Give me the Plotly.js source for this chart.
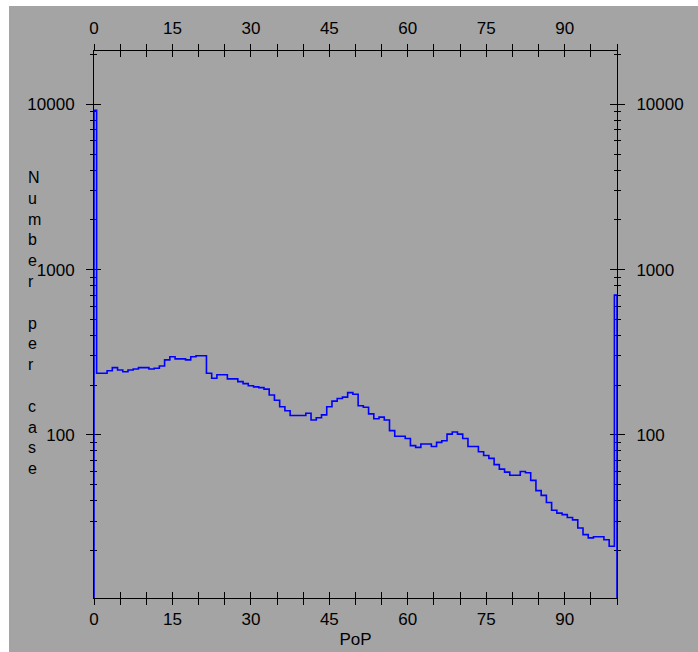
<!DOCTYPE html>
<html><head><meta charset="utf-8">
<script src="https://cdn.plot.ly/plotly-3.0.1.min.js"></script>
<style>
html,body{margin:0;padding:0;background:#ffffff;width:698px;height:652px;overflow:hidden}
#chart{position:absolute;left:9px;top:6px;width:689px;height:646px}
</style>
</head><body><div id="chart"></div><script>
// PoP value (bin centre) and number of cases in each bin
const pop = [0,1,2,3,4,5,6,7,8,9,10,11,12,13,14,15,16,17,18,19,20,21,22,23,24,25,26,27,28,29,30,31,32,33,34,35,36,37,38,39,40,41,42,43,44,45,46,47,48,49,50,51,52,53,54,55,56,57,58,59,60,61,62,63,64,65,66,67,68,69,70,71,72,73,74,75,76,77,78,79,80,81,82,83,84,85,86,87,88,89,90,91,92,93,94,95,96,97,98,99,100];
const counts = [9200,236,236,244,255,247,241,247,250,255,255,250,253,261,284,297,288,288,284,297,301,301,236,220,231,231,218,218,210,204,198,195,193,189,174,162,148,140,131,131,131,135,123,127,132,148,160,166,169,180,176,150,147,134,125,128,123,106,98,98,95,86,84,88,88,85,90,92,101,104,101,95,85,85,79,75,72,66,62,59.5,57,57,60,59,53,46,43,39,35,33.6,32.9,31.6,30.6,27.3,24.9,23.8,24.2,24.2,23.2,21.2,701];
const baselineCount = 1; // histogram outline drops to the baseline at both ends

const xTickVals = [0,5,10,15,20,25,30,35,40,45,50,55,60,65,70,75,80,85,90,95,100];
const xTickText = ['0','','','15','','','30','','','45','','','60','','','75','','','90','',''];
const yTickVals = [100,1000,10000];
const yTickText = ['100','1000','10000'];
const yMinorVals = [20,30,40,50,60,70,80,90,200,300,400,500,600,700,800,900,2000,3000,4000,5000,6000,7000,8000,9000,20000];
const xTitle = 'PoP';
const yTitle = 'Number per case';

const lineX = [pop[0]].concat(pop, [pop[pop.length-1]]);
const lineY = [baselineCount].concat(counts, [baselineCount]);

const GRAY = '#a4a4a4';
const tickFont = {family:'Liberation Sans, Arial, sans-serif', size:17, color:'#000'};
const xRange = [0,100];
const yRange = [Math.log10(10.3), Math.log10(21000)];

const baseX = {range:xRange, showgrid:false, zeroline:false, fixedrange:true, layer:'below traces',
  tickmode:'array', tickvals:xTickVals, ticktext:xTickText, tickcolor:'#000', tickwidth:1, ticklen:6,
  showline:true, linecolor:'#000', linewidth:1, tickfont:tickFont};
const baseY = {type:'log', range:yRange, showgrid:false, zeroline:false, fixedrange:true, layer:'below traces',
  tickmode:'array', tickvals:yTickVals, ticktext:yTickText, tickcolor:'#000', tickwidth:1, ticklen:7,
  showline:true, linecolor:'#000', linewidth:1, tickfont:tickFont};

const traces = [
  {x:lineX, y:lineY, type:'scatter', mode:'lines', line:{color:'#0000ff', width:1.6, shape:'hvh'},
   xaxis:'x', yaxis:'y', showlegend:false, hoverinfo:'skip'},
  {x:[null], y:[null], type:'scatter', mode:'lines', xaxis:'x2', yaxis:'y2', showlegend:false, hoverinfo:'skip'},
  {x:[null], y:[null], type:'scatter', mode:'lines', xaxis:'x3', yaxis:'y3', showlegend:false, hoverinfo:'skip'}
];

const layout = {
  width:689, height:646,
  margin:{l:85.3, r:81.3, t:45, b:53.7, pad:0},
  paper_bgcolor:GRAY, plot_bgcolor:GRAY,
  showlegend:false,
  xaxis:Object.assign({}, baseX, {side:'bottom', anchor:'y', ticks:'outside',
    title:{text:xTitle, font:tickFont, standoff:4}}),
  xaxis2:Object.assign({}, baseX, {side:'top', anchor:'y', overlaying:'x', ticks:'outside', ticklabelstandoff:3}),
  xaxis3:Object.assign({}, baseX, {anchor:'y', overlaying:'x', ticks:'inside', mirror:'allticks', showticklabels:false}),
  yaxis:Object.assign({}, baseY, {side:'left', anchor:'x', ticks:'outside', ticklabelstandoff:8,
    minor:{tickvals:yMinorVals, ticks:'outside', ticklen:3, tickcolor:'#000', tickwidth:1, showgrid:false}}),
  yaxis2:Object.assign({}, baseY, {side:'right', anchor:'x', overlaying:'y', ticks:'outside', ticklabelstandoff:8,
    minor:{tickvals:yMinorVals, ticks:'outside', ticklen:3, tickcolor:'#000', tickwidth:1, showgrid:false}}),
  yaxis3:Object.assign({}, baseY, {anchor:'x', overlaying:'y', ticks:'inside', mirror:'allticks', showticklabels:false,
    minor:{tickvals:yMinorVals, ticks:'inside', ticklen:3, tickcolor:'#000', tickwidth:1, showgrid:false}}),
  annotations:[{
    text: yTitle.split('').map(c => c === ' ' ? '\u00a0' : c).join('<br>'),
    xref:'paper', yref:'paper', x:-0.1305, y:0.503, xanchor:'left', yanchor:'middle', align:'left',
    showarrow:false, font:{family:'Liberation Sans, Arial, sans-serif', size:16, color:'#000'}
  }]
};

Plotly.newPlot('chart', traces, layout, {staticPlot:true, displayModeBar:false});
</script></body></html>
